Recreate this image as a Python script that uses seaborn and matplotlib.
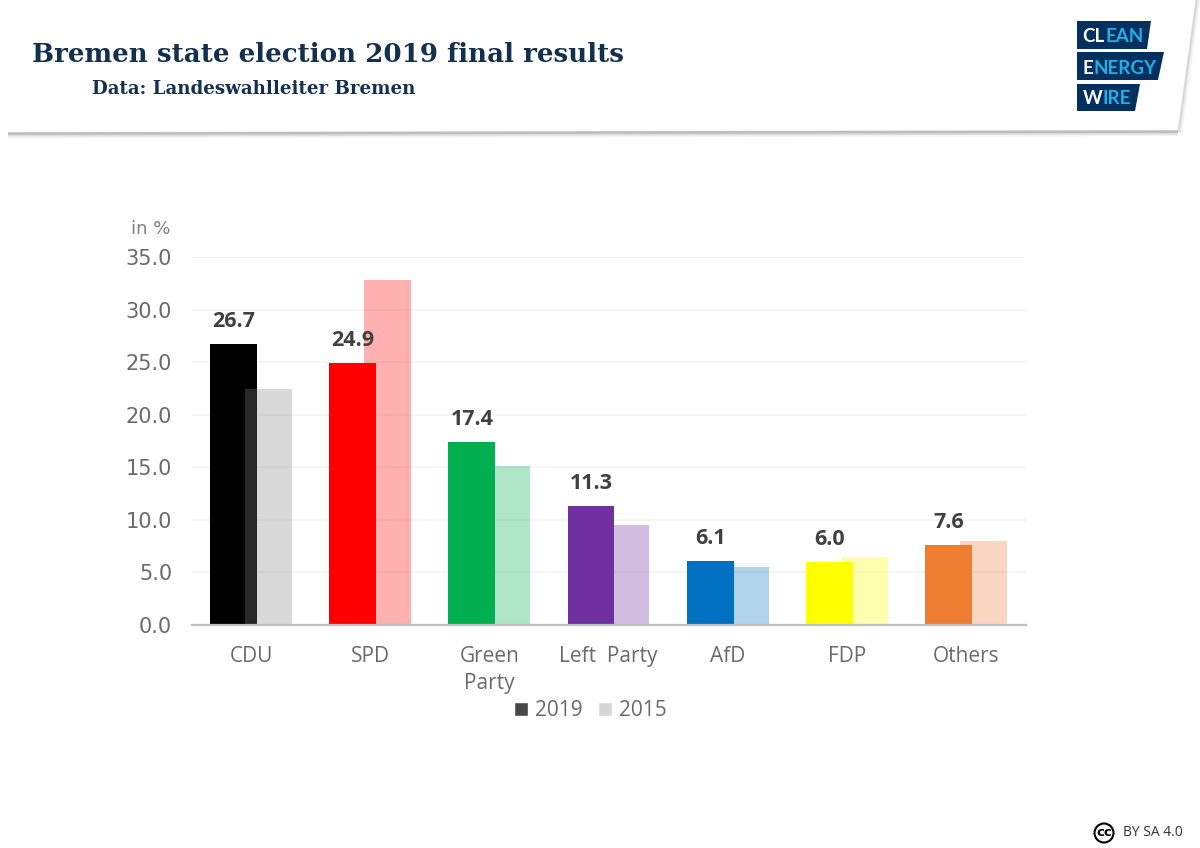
import numpy as np
import pandas as pd
import matplotlib
matplotlib.use("Agg")
import matplotlib.pyplot as plt
from matplotlib.patches import Patch, Polygon, Circle
from matplotlib.lines import Line2D
import seaborn as sns

parties = ["CDU", "SPD", "Green\nParty", "Left  Party", "AfD", "FDP", "Others"]
results_2019 = [26.7, 24.9, 17.4, 11.3, 6.1, 6.0, 7.6]
results_2015 = [22.4, 32.8, 15.1, 9.5, 5.5, 6.5, 8.0]
labels_2019 = ["26.7", "24.9", "17.4", "11.3", "6.1", "6.0", "7.6"]
colors_2019 = ["#000000", "#FF0000", "#00B050", "#7030A0", "#0070C0", "#FFFF00", "#ED7D31"]
colors_2015 = ["#878787", "#FF0000", "#00B050", "#7030A0", "#0070C0", "#FFFF00", "#ED7D31"]
y_ticks = [0, 5, 10, 15, 20, 25, 30, 35]
title = "Bremen state election 2019 final results"
subtitle = "Data: Landeswahlleiter Bremen"

W, H = 1200, 848
sns.set_theme(style="white")
plt.rcParams["font.family"] = ["DejaVu Sans"]

fig = plt.figure(figsize=(W / 100, H / 100), dpi=100, facecolor="white")
L, R, T, B = 191.5, 1025.5, 257, 625
ax = fig.add_axes([L / W, 1 - B / H, (R - L) / W, (B - T) / H])

pos = np.arange(len(parties))
shift = 0.147
bar_w = 0.394
df19 = pd.DataFrame({"x": pos - shift, "v": results_2019, "p": parties})
df15 = pd.DataFrame({"x": pos + shift, "v": results_2015, "p": parties})

sns.barplot(data=df19, x="x", y="v", hue="p", hue_order=parties, palette=colors_2019,
            native_scale=True, width=bar_w, dodge=False, saturation=1, linewidth=0,
            legend=False, ax=ax, zorder=3, errorbar=None)
n19 = len(ax.containers)
sns.barplot(data=df15, x="x", y="v", hue="p", hue_order=parties, palette=colors_2015,
            native_scale=True, width=bar_w, dodge=False, saturation=1, linewidth=0,
            alpha=0.31, legend=False, ax=ax, zorder=4, errorbar=None)

for cont, lab in zip(ax.containers[:n19], labels_2019):
    ax.bar_label(cont, labels=[lab], padding=8.5, fontsize=15.5, fontweight="bold",
                 family="Open Sans", color="#404040", zorder=6)

ax.set_xlim(-0.5, len(parties) - 0.5)
ax.set_ylim(0, 35)
ax.set_xticks(pos)
ax.set_xticklabels(parties, fontsize=15, color="#6a6a6a", family="Open Sans", linespacing=1.4)
ax.set_yticks(y_ticks)
ax.set_yticklabels([f"{t:.1f}" for t in y_ticks], fontsize=15, color="#6a6a6a")
ax.set_xlabel("")
ax.set_ylabel("")
ax.tick_params(axis="both", length=0)
ax.tick_params(axis="x", pad=15)
ax.tick_params(axis="y", pad=14)
ax.yaxis.grid(True, color="#f4f4f4", linewidth=1.2, zorder=0)
ax.set_axisbelow(True)
sns.despine(ax=ax, left=True, top=True, right=True)
ax.spines["bottom"].set_color("#bfbfbf")
ax.spines["bottom"].set_linewidth(1.6)
ax.spines["bottom"].set_zorder(7)

# overlay in pixel space for the page furniture
ov = fig.add_axes([0, 0, 1, 1], zorder=10)
ov.set_xlim(0, W)
ov.set_ylim(H, 0)
ov.axis("off")
ov.patch.set_alpha(0)

# header card shadow
for off, a, lw in [(2.5, 0.10, 4), (1.5, 0.20, 3), (0.5, 0.40, 2)]:
    ov.add_line(Line2D([8, 1178], [133 + off, 131 + off], color="#8c8c8c", alpha=a, lw=lw, solid_capstyle="butt"))
    ov.add_line(Line2D([1178 + off, 1196 + off], [131 + off, 0], color="#b4b4b4", alpha=a, lw=lw * 0.7, solid_capstyle="butt"))

navy = "#14304f"
ov.text(32, 55, title, fontsize=18.85, fontweight="bold", family="DejaVu Serif", color=navy, va="center", ha="left")
ov.text(92, 88.5, subtitle, fontsize=13.15, fontweight="bold", family="DejaVu Serif", color=navy, va="center", ha="left")
ov.text(170, 228.5, "in %", fontsize=13, color="#7f7f7f", va="center", ha="right")

# logo
logo_bg = "#03305f"
logo_parts = [
    ([(1077, 21), (1151, 21), (1147, 49), (1077, 49)], "CL", "EAN", 42.5),
    ([(1077, 52), (1164, 52), (1158, 80), (1077, 80)], "E", "NERGY", 73.5),
    ([(1077, 84), (1140, 84), (1135, 111), (1077, 111)], "W", "IRE", 104.5),
]
renderer = fig.canvas.get_renderer()
for poly, white, blue, base in logo_parts:
    ov.add_patch(Polygon(poly, closed=True, facecolor=logo_bg, edgecolor="none"))
    t = ov.text(1082.5, base, white, fontsize=13.5, fontweight="bold", family="Lato",
                color="white", va="baseline", ha="left")
    next_x = ov.transData.inverted().transform(t.get_window_extent(renderer).corners()[2])[0]
    ov.text(next_x + 0.5, base, blue, fontsize=13.5, fontweight="bold", family="Lato",
            color="#1fb0e8", va="baseline", ha="left")

# legend
leg_handles = [Patch(facecolor="#484848", label="2019"), Patch(facecolor="#d6d6d6", label="2015")]
ov.legend(handles=leg_handles, loc="center", bbox_to_anchor=(590.5 / W, 1 - 710.5 / H),
          bbox_transform=fig.transFigure, ncol=2, frameon=False,
          labelcolor="#6a6a6a", handlelength=0.67, handleheight=0.67, handletextpad=0.32,
          columnspacing=0.75, prop={"family": "Open Sans", "size": 15})

# licence
ov.add_patch(Circle((1104, 833), 9.5, facecolor="white", edgecolor="black", lw=1.5))
ov.text(1104, 832.5, "cc", fontsize=9.5, fontweight="bold", color="black", ha="center", va="center")
ov.text(1123, 833, "BY SA 4.0", fontsize=10, family="Open Sans", color="#333333", ha="left", va="center")

fig.savefig("out.png", dpi=100, facecolor="white")
